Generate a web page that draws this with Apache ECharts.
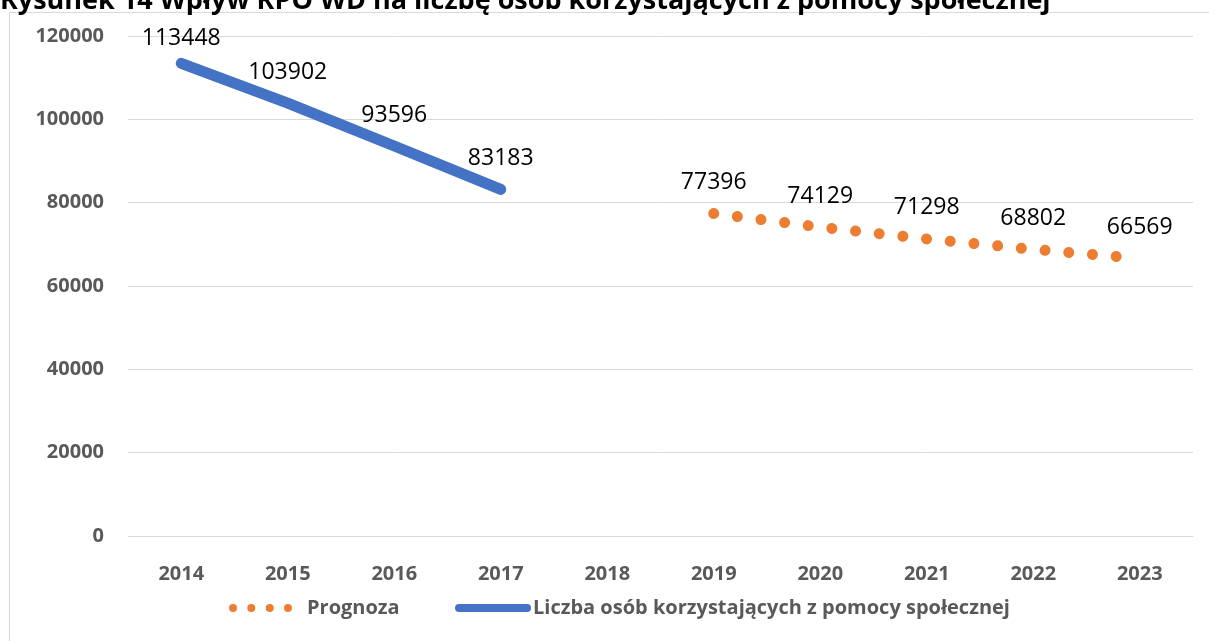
<!DOCTYPE html>
<html><head><meta charset="utf-8">
<script src="https://cdn.jsdelivr.net/npm/echarts@6/dist/echarts.min.js"></script>
<style>html,body{margin:0;padding:0;background:#fff}#c{width:1209px;height:641px}</style>
</head><body><div id="c"></div>
<script>
const titleText = 'Rysunek 14 Wpływ RPO WD na liczbę osób korzystających z pomocy społecznej';
const categories = ['2014','2015','2016','2017','2018','2019','2020','2021','2022','2023'];
const actualName = 'Liczba osób korzystających z pomocy społecznej';
const actualValues = [113448, 103902, 93596, 83183, null, null, null, null, null, null];
const forecastName = 'Prognoza';
const forecastValues = [null, null, null, null, null, 77396, 74129, 71298, 68802, 66569];
const yTicks = {min: 0, max: 120000, interval: 20000};

const FONT = 'Open Sans';
const ORANGE = '#ED7D31', BLUE = '#4472C4';
const chart = echarts.init(document.getElementById('c'), null, {renderer: 'canvas'});
const lbl = {show: true, position: 'top', distance: 19, color: '#000', fontFamily: FONT, fontSize: 23};

chart.setOption({
  backgroundColor: '#fff',
  animation: false,
  title: {
    text: titleText, left: 0, top: -12, padding: 0,
    textStyle: {fontFamily: FONT, fontWeight: 'bold', fontSize: 27, lineHeight: 27, color: '#000'},
    z: 10
  },
  graphic: [{
    type: 'rect', z: -1, silent: true,
    shape: {x: 9.5, y: 12.5, width: 1400, height: 800},
    style: {fill: 'rgba(0,0,0,0)', stroke: '#d9d9d9', lineWidth: 1}
  }],
  legend: [{
    left: 229, top: 598, itemWidth: 63, itemHeight: 8, padding: 0,
    data: [{name: forecastName, itemStyle: {color: ORANGE, opacity: 1},
      icon: 'path://M0,4a4,4 0 1,0 8,0a4,4 0 1,0 -8,0M18.3,4a4,4 0 1,0 8,0a4,4 0 1,0 -8,0M36.7,4a4,4 0 1,0 8,0a4,4 0 1,0 -8,0M55,4a4,4 0 1,0 8,0a4,4 0 1,0 -8,0'}],
    textStyle: {fontFamily: FONT, fontWeight: 'bold', fontSize: 20, color: '#595959', padding: [0,0,0,10]},
    selectedMode: false
  }, {
    left: 455, top: 598, itemWidth: 76, itemHeight: 8, padding: 0,
    data: [{name: actualName, itemStyle: {color: BLUE, opacity: 1},
      icon: 'path://M4,0L72,0A4,4 0 0 1 72,8L4,8A4,4 0 0 1 4,0Z'}],
    textStyle: {fontFamily: FONT, fontWeight: 'bold', fontSize: 20, color: '#595959', padding: [0,0,0,-3]},
    selectedMode: false
  }],
  grid: {left: 128, right: 16, top: 36, bottom: 105, containLabel: false},
  xAxis: {
    type: 'category', data: categories, boundaryGap: true,
    axisLine: {show: true, lineStyle: {color: '#d9d9d9', width: 1}},
    axisTick: {show: false},
    axisLabel: {margin: 28, fontFamily: FONT, fontWeight: 'bold', fontSize: 20, color: '#595959'}
  },
  yAxis: {
    type: 'value', min: yTicks.min, max: yTicks.max, interval: yTicks.interval,
    axisLine: {show: false}, axisTick: {show: false},
    splitLine: {lineStyle: {color: '#d9d9d9', width: 1}},
    axisLabel: {margin: 24, fontFamily: FONT, fontWeight: 'bold', fontSize: 20, color: '#595959',
      formatter: v => String(v)}
  },
  series: [{
    name: forecastName, type: 'line',
    data: forecastValues.map(v => v === null ? '-' : v),
    symbol: 'circle', symbolSize: 1, itemStyle: {color: 'rgba(0,0,0,0)'},
    lineStyle: {color: ORANGE, width: 11, type: [0.01, 23.8], cap: 'round', join: 'round'},
    label: lbl, z: 2
  }, {
    name: actualName, type: 'line',
    data: actualValues.map((v, i) => v === null ? '-' : (i === 0 ? {value: v, label: {distance: 13}} : v)),
    symbol: 'circle', symbolSize: 1, itemStyle: {color: 'rgba(0,0,0,0)'},
    lineStyle: {color: BLUE, width: 11, cap: 'round', join: 'round'},
    label: lbl, z: 3
  }]
});
</script></body></html>
